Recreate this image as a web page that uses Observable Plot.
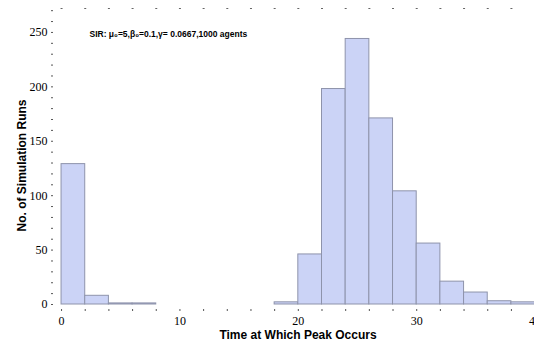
<!DOCTYPE html>
<html>
<head>
<meta charset="utf-8">
<script src="https://cdn.jsdelivr.net/npm/d3@7"></script>
<script src="https://cdn.jsdelivr.net/npm/@observablehq/plot@0.6"></script>
<style>
  html, body { margin: 0; padding: 0; background: white; overflow: hidden; }
  #chart svg { display: block; }
</style>
</head>
<body>
<div id="chart"></div>
<script>
// Histogram bins (time at which peak occurs) and counts
const binStart = [0, 2, 4, 6, 18, 20, 22, 24, 26, 28, 30, 32, 34, 36, 38];
const binWidth = 2;
const counts   = [129, 8, 1, 1, 2, 46, 198, 244, 171, 104, 56, 21, 11, 3, 2];
const xTickLabels = [0, 10, 20, 30, 40];
const yTickLabels = [0, 50, 100, 150, 200, 250];
const annotation = "SIR: μ₀=5,β₀=0.1,γ= 0.0667,1000 agents";
const xTitle = "Time at Which Peak Occurs";
const yTitle = "No. of Simulation Runs";

const bins = binStart.map((s, i) => ({x1: s, x2: s + binWidth, count: counts[i]}));
const xMinor = d3.range(0, 41, 2);
const yMinor = d3.range(0, 271, 10);

const serif = "'Liberation Serif', 'DejaVu Serif', serif";
const sans = "'Liberation Sans', Arial, sans-serif";
const blank = () => "";

const chart = Plot.plot({
  width: 534,
  height: 343,
  marginLeft: 53,
  marginRight: 0,
  marginTop: 8,
  marginBottom: 39,
  style: {fontFamily: serif, fontSize: "12px", background: "white", overflow: "visible"},
  x: {domain: [-0.68, 39.95]},
  y: {domain: [0, 272]},
  marks: [
    Plot.rectY(bins, {x1: "x1", x2: "x2", y: "count", fill: "#cbd3f6", stroke: "#8e93ab", strokeWidth: 1}),
    // y ticks
    Plot.axisY({ticks: yMinor, tickSize: 2, tickFormat: blank, label: null, stroke: "#555"}),
    Plot.axisY({ticks: yTickLabels, tickSize: 0, tickPadding: 6, tickFormat: d => d, label: null, fill: "black", fontFamily: serif, fontSize: 12}),
    // bottom x ticks
    Plot.axisX({ticks: xMinor, tickSize: 2, dy: 5, tickFormat: blank, label: null, stroke: "#555"}),
    Plot.axisX({ticks: xTickLabels, tickSize: 0, tickPadding: 12, tickFormat: d => d, label: null, fill: "black", fontFamily: serif, fontSize: 12}),
    // top x ticks
    Plot.axisX({anchor: "top", ticks: xMinor, tickSize: 1, strokeWidth: 2, tickFormat: blank, label: null, stroke: "#666"}),
    Plot.text([yTitle], {frameAnchor: "left", dx: -31, dy: 9, rotate: -90, text: d => d, fontFamily: sans, fontWeight: "bold", fontSize: 12, fill: "black", textAnchor: "middle"}),
    Plot.text([xTitle], {frameAnchor: "bottom", lineAnchor: "middle", dx: 4, dy: 31, text: d => d, fontFamily: sans, fontWeight: "bold", fontSize: 12, fill: "black", textAnchor: "middle"}),
    Plot.text([annotation], {frameAnchor: "top-left", dx: 36, dy: 22, text: d => d, fontFamily: sans, fontWeight: "bold", fontSize: 8.5, fill: "black", textAnchor: "start"})
  ]
});
document.getElementById("chart").appendChild(chart);
</script>
</body>
</html>
